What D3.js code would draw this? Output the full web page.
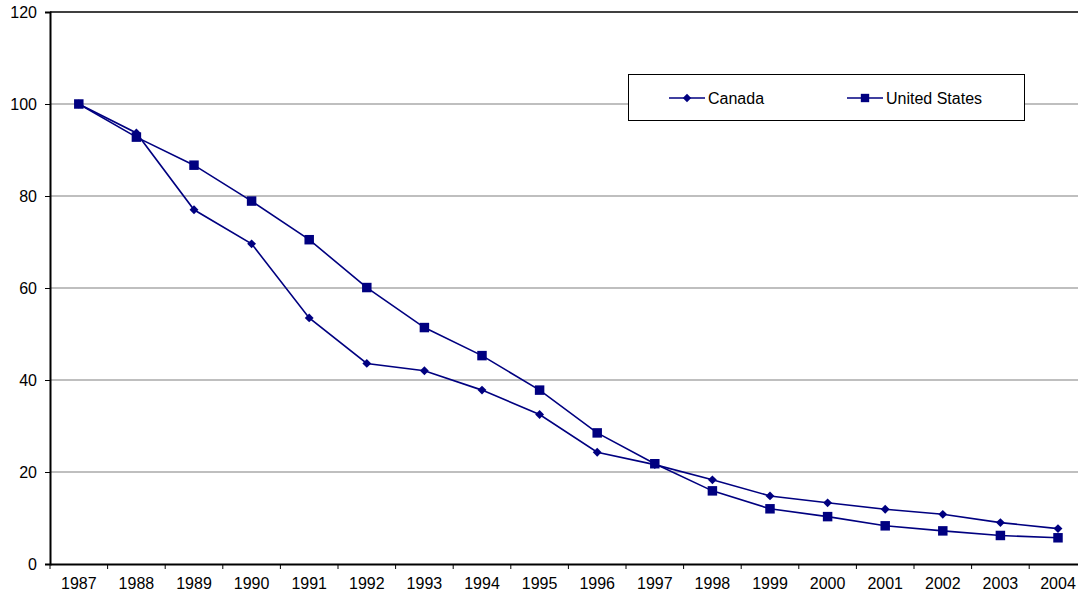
<!DOCTYPE html>
<html>
<head>
<meta charset="utf-8">
<script src="https://cdn.jsdelivr.net/npm/d3@7"></script>
<style>
  html, body { margin: 0; padding: 0; background: #fff; }
  svg { display: block; font-family: "Liberation Sans", Arial, sans-serif; }
</style>
</head>
<body>
<svg id="chart" width="1078" height="596"></svg>
<script>
const years = ["1987","1988","1989","1990","1991","1992","1993","1994","1995","1996","1997","1998","1999","2000","2001","2002","2003","2004"];
const canada = [100, 93.7, 77.0, 69.6, 53.5, 43.6, 42.0, 37.8, 32.5, 24.3, 21.6, 18.3, 14.8, 13.3, 11.9, 10.8, 9.0, 7.7];
const unitedStates = [100, 92.8, 86.7, 78.9, 70.5, 60.1, 51.4, 45.3, 37.8, 28.5, 21.8, 15.9, 12.0, 10.3, 8.3, 7.2, 6.2, 5.7];
const yTicks = [0, 20, 40, 60, 80, 100, 120];
const seriesNames = ["Canada", "United States"];

const svg = d3.select("#chart");
const mLeft = 50, mTop = 12, mBottom = 564, step = 57.6;
const mRight = mLeft + step * years.length;
const navy = "#000080";

const x = d3.scaleBand().domain(years).range([mLeft, mRight]).padding(0);
const y = d3.scaleLinear().domain([0, 120]).range([mBottom, mTop]);
const cx = d => x(d) + x.bandwidth() / 2;

// gridlines
svg.append("g").selectAll("line").data(yTicks.filter(v => v > 0 && v < 120)).join("line")
  .attr("x1", mLeft).attr("x2", mRight)
  .attr("y1", d => y(d)).attr("y2", d => y(d))
  .attr("stroke", "#808080").attr("stroke-width", 1.2);

// top border
svg.append("line").attr("x1", mLeft).attr("x2", mRight).attr("y1", y(120)).attr("y2", y(120))
  .attr("stroke", "#000").attr("stroke-width", 1.5);

// y axis
const yAxis = svg.append("g").attr("transform", `translate(${mLeft},0)`)
  .call(d3.axisLeft(y).tickValues(yTicks).tickSize(5).tickPadding(8).tickFormat(d3.format("d")));
yAxis.select(".domain").attr("stroke", "#000").attr("stroke-width", 2);
yAxis.selectAll(".tick line").attr("stroke", "#000").attr("stroke-width", 1);
yAxis.selectAll("text").attr("font-size", 16).attr("fill", "#000")
  .attr("font-family", "'Liberation Sans', Arial, sans-serif");

// x axis
const xAxis = svg.append("g").attr("transform", `translate(0,${mBottom})`)
  .call(d3.axisBottom(x).tickSize(0).tickPadding(14));
xAxis.select(".domain").attr("stroke", "#000").attr("stroke-width", 2);
xAxis.selectAll("text").attr("font-size", 16).attr("fill", "#000")
  .attr("font-family", "'Liberation Sans', Arial, sans-serif");
// boundary ticks
svg.append("g").selectAll("line").data(years.concat(["end"])).join("line")
  .attr("x1", (d, i) => mLeft + i * x.step()).attr("x2", (d, i) => mLeft + i * x.step())
  .attr("y1", mBottom).attr("y2", mBottom + 5)
  .attr("stroke", "#000").attr("stroke-width", 1);

const line = d3.line().x((d, i) => cx(years[i])).y(d => y(d));

function drawSeries(vals, shape) {
  const g = svg.append("g");
  g.append("path").datum(vals).attr("d", line)
    .attr("fill", "none").attr("stroke", navy).attr("stroke-width", 1.6);
  const sym = d3.symbol().type(shape === "square" ? d3.symbolSquare : d3.symbolDiamond2)
    .size(shape === "square" ? 90 : 50);
  g.selectAll("path.m").data(vals).join("path").attr("class", "m")
    .attr("d", sym)
    .attr("transform", (d, i) => `translate(${cx(years[i])},${y(d)})`)
    .attr("fill", navy);
}
drawSeries(canada, "diamond");
drawSeries(unitedStates, "square");

// legend
const lg = svg.append("g");
lg.append("rect").attr("x", 628.5).attr("y", 74.5).attr("width", 396).attr("height", 46)
  .attr("fill", "#fff").attr("stroke", "#000").attr("stroke-width", 1);
const legendItems = [
  { name: seriesNames[0], x0: 669, shape: "diamond" },
  { name: seriesNames[1], x0: 847, shape: "square" }
];
legendItems.forEach(it => {
  lg.append("line").attr("x1", it.x0).attr("x2", it.x0 + 36).attr("y1", 98).attr("y2", 98)
    .attr("stroke", navy).attr("stroke-width", 1.6);
  lg.append("path")
    .attr("d", d3.symbol().type(it.shape === "square" ? d3.symbolSquare : d3.symbolDiamond2).size(it.shape === "square" ? 70 : 45))
    .attr("transform", `translate(${it.x0 + 18},98)`).attr("fill", navy);
  lg.append("text").attr("x", it.x0 + 39).attr("y", 98).attr("dy", "0.35em")
    .attr("font-size", 16).attr("fill", "#000").text(it.name);
});
</script>
</body>
</html>
